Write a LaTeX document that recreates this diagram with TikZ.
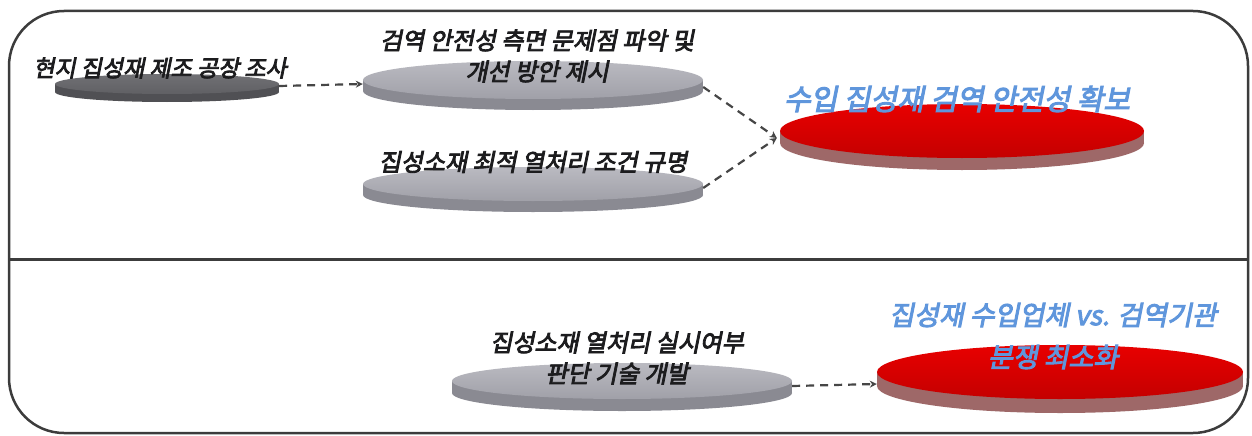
\documentclass[tikz,border=0pt]{standalone}
\usepackage{fontspec}
\newfontfamily\kr{Noto Sans CJK KR}[FakeSlant=0.2,FakeBold=3.5]
\usetikzlibrary{shapes.geometric,calc,arrows.meta}
\definecolor{framec}{RGB}{60,60,60}
\definecolor{txtc}{RGB}{28,28,30}
\definecolor{bluet}{RGB}{95,150,220}
\definecolor{dktop}{RGB}{112,112,116}
\definecolor{dkbot}{RGB}{96,96,100}
\definecolor{dkside}{RGB}{80,80,84}
\definecolor{gytop}{RGB}{186,186,193}
\definecolor{gybot}{RGB}{160,160,168}
\definecolor{gyside}{RGB}{138,138,146}
\definecolor{rdtop}{RGB}{232,0,0}
\definecolor{rdbot}{RGB}{196,0,0}
\definecolor{rdside}{RGB}{158,104,104}
\definecolor{arrc}{RGB}{70,70,70}
\tikzset{
  dktopst/.style={top color=dktop,bottom color=dkbot},
  dksidest/.style={fill=dkside},
  gytopst/.style={top color=gytop,bottom color=gybot},
  gysidest/.style={fill=gyside},
  rdtopst/.style={top color=rdtop,bottom color=rdbot},
  rdsidest/.style={fill=rdside},
  lbl/.style={font=\kr\fontsize{24}{31}\selectfont,text=txtc,align=center,inner sep=0pt},
  bluelbl/.style={font=\kr\fontsize{29}{40}\selectfont,text=bluet,align=center,inner sep=0pt},
  conn/.style={draw=arrc,line width=2.2pt,dash pattern=on 8pt off 6pt,-{Stealth[length=7pt,width=7pt]}},
}
\newcommand\mydisc[7]{%
  \node[ellipse,draw=none,#7sidest,minimum width={2*#4pt},minimum height={2*#5pt},inner sep=0pt] at (#2,#3+#6) {};
  \fill[#7sidest] (#2-#4,#3) rectangle (#2+#4,#3+#6);
  \node[ellipse,draw=none,#7topst,minimum width={2*#4pt},minimum height={2*#5pt},inner sep=0pt] (#1) at (#2,#3) {};
}
\begin{document}
\begin{tikzpicture}[x=1pt,y=-1pt]
\useasboundingbox (0,0) rectangle (1252,436);
\fill[white] (0,0) rectangle (1252,436);
% frame
\draw[framec,line width=2.5pt,rounded corners=55pt] (9,11) rectangle (1248,433);
\draw[framec,line width=3pt] (9,259) -- (1248,259);
% discs
\mydisc{d1}{167}{84}{112}{10}{8}{dk}
\mydisc{d2}{533}{80}{170}{19}{11}{gy}
\mydisc{d3}{533}{184}{170}{17}{11}{gy}
\mydisc{d4}{962}{131}{182}{27}{12}{rd}
\mydisc{d5}{622}{381}{170}{18}{12}{gy}
\mydisc{d6}{1060}{372}{183}{27}{14}{rd}
% labels
\node[lbl,font=\kr\fontsize{23}{30}\selectfont] (t1) at (160,68) {현지 집성재 제조 공장 조사};
\node[lbl] (t2) at (537,56) {검역 안전성 측면 문제점 파악 및\\개선 방안 제시};
\node[lbl] (t3) at (533,162) {집성소재 최적 열처리 조건 규명};
\node[bluelbl] (t4) at (957,99) {수입 집성재 검역 안전성 확보};
\node[lbl] (t5) at (617,358) {집성소재 열처리 실시여부\\판단 기술 개발};
\node[bluelbl,font=\kr\fontsize{27}{42}\selectfont] (t6) at (1053,336) {집성재 수입업체 vs. 검역기관\\분쟁 최소화};
% connectors
\coordinate (m) at ($(d4.west)+(-3,7)$);
\draw[conn] ($(d1.east)+(0,2)$) -- ($(d2.west)+(0,4)$);
\draw[conn] ($(d2.east)+(0,7)$) -- (m);
\draw[conn] ($(d3.east)+(0,4)$) -- (m);
\draw[conn] ($(d5.east)+(0,5)$) -- ($(d6.west)+(0,12)$);
\end{tikzpicture}
\end{document}
